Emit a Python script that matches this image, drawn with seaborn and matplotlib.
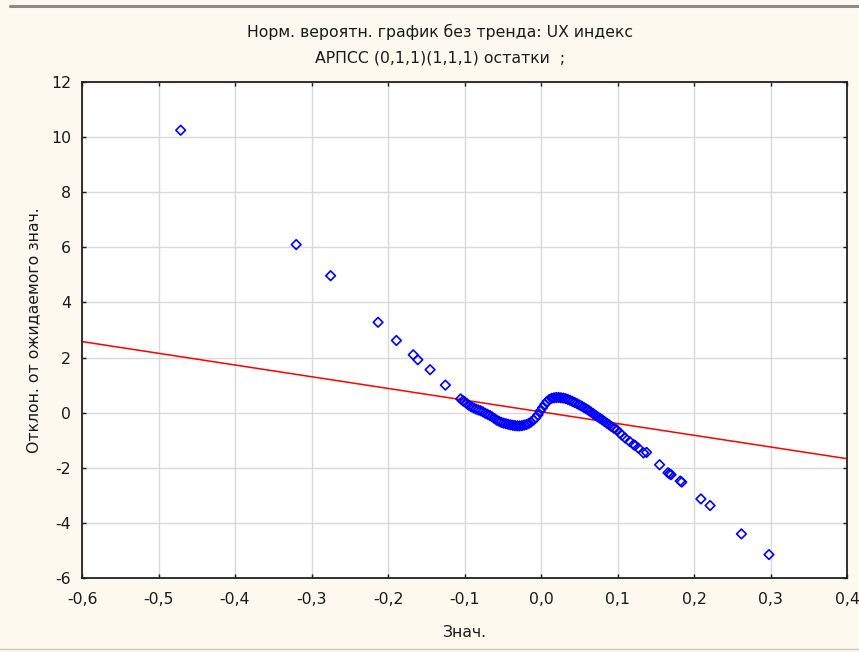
import matplotlib
matplotlib.use("Agg")
import matplotlib.pyplot as plt
import seaborn as sns
import pandas as pd
from matplotlib.lines import Line2D

# ---------------- data ----------------
title_lines = ["Норм. вероятн. график без тренда: UX индекс", "АРПСС (0,1,1)(1,1,1) остатки  ;"]
x_label = "Знач."
y_label = "Отклон. от ожидаемого знач."

x_ticks = [-0.6, -0.5, -0.4, -0.3, -0.2, -0.1, 0.0, 0.1, 0.2, 0.3, 0.4]
x_tick_labels = ["-0,6", "-0,5", "-0,4", "-0,3", "-0,2", "-0,1", "0,0", "0,1", "0,2", "0,3", "0,4"]
y_ticks = [-6, -4, -2, 0, 2, 4, 6, 8, 10, 12]
y_tick_labels = ["-6", "-4", "-2", "0", "2", "4", "6", "8", "10", "12"]

# left tail
tail_left_x = [-0.471, -0.320, -0.275, -0.213, -0.189, -0.167, -0.161, -0.145, -0.125, -0.105, -0.102]
tail_left_y = [10.25, 6.10, 4.97, 3.28, 2.62, 2.10, 1.92, 1.56, 1.00, 0.50, 0.43]

# dense central band
band_x = [-0.100, -0.097, -0.094, -0.091, -0.088, -0.085, -0.082, -0.079, -0.076, -0.073,
          -0.070, -0.067, -0.064, -0.061, -0.058, -0.055, -0.052, -0.049, -0.046, -0.043,
          -0.040, -0.037, -0.034, -0.031, -0.028, -0.025, -0.022, -0.019, -0.016, -0.013,
          -0.010, -0.007, -0.004, -0.001, 0.002, 0.005, 0.008, 0.011, 0.014, 0.017,
          0.020, 0.023, 0.026, 0.029, 0.032, 0.035, 0.038, 0.041, 0.044, 0.047,
          0.050, 0.053, 0.056, 0.059, 0.062, 0.065, 0.068, 0.071, 0.074, 0.077,
          0.080, 0.083, 0.086, 0.089, 0.092, 0.095]
band_y = [0.40, 0.33, 0.26, 0.21, 0.17, 0.13, 0.10, 0.07, 0.03, -0.02,
          -0.06, -0.10, -0.15, -0.21, -0.27, -0.31, -0.35, -0.38, -0.40, -0.42,
          -0.44, -0.46, -0.47, -0.48, -0.48, -0.47, -0.45, -0.43, -0.39, -0.34,
          -0.27, -0.19, -0.08, 0.06, 0.18, 0.30, 0.41, 0.48, 0.52, 0.54,
          0.55, 0.55, 0.54, 0.53, 0.51, 0.48, 0.45, 0.41, 0.37, 0.33,
          0.28, 0.24, 0.19, 0.14, 0.09, 0.03, -0.03, -0.09, -0.15, -0.20,
          -0.26, -0.32, -0.38, -0.44, -0.50, -0.56]

# right tail
tail_right_x = [0.099, 0.103, 0.106, 0.110, 0.116, 0.121, 0.123, 0.127, 0.134, 0.138,
                0.155, 0.166, 0.168, 0.170, 0.182, 0.184, 0.209, 0.221, 0.262, 0.298]
tail_right_y = [-0.62, -0.74, -0.82, -0.92, -1.05, -1.16, -1.19, -1.28, -1.46, -1.44,
                -1.89, -2.18, -2.22, -2.25, -2.48, -2.52, -3.13, -3.37, -4.40, -5.15]

# reference line endpoints
line_x = [-0.6, 0.4]
line_y = [2.58, -1.67]

# ---------------- figure ----------------
sns.set_theme(style="white")
plt.rcParams["font.family"] = ["DejaVu Sans"]

bg = "#FEF9EE"
txt = "#1A1A1A"
fs = 11.3
fig = plt.figure(figsize=(8.59, 6.52), dpi=100, facecolor=bg)
ax = fig.add_axes([82 / 859, 74 / 652, (847 - 82) / 859, (578 - 82) / 652])
ax.set_facecolor("white")

pts = pd.DataFrame({
    "x": tail_left_x + band_x + tail_right_x,
    "y": tail_left_y + band_y + tail_right_y,
})

sns.lineplot(x=line_x, y=line_y, color="#FF0000", lw=1.1, ax=ax, zorder=2)
sns.scatterplot(data=pts, x="x", y="y", marker="D", s=24, facecolor="none",
                edgecolor="#0000FF", linewidth=1.2, ax=ax, zorder=3)
for c in ax.collections:
    c.set_facecolor("none")

ax.set_xlim(-0.6, 0.4)
ax.set_ylim(-6, 12)
ax.set_xticks(x_ticks)
ax.set_xticklabels(x_tick_labels)
ax.set_yticks(y_ticks)
ax.set_yticklabels(y_tick_labels)
ax.grid(True, color="#D9D9D9", lw=1.0)
ax.set_axisbelow(True)
for s in ax.spines.values():
    s.set_color("#202020")
    s.set_linewidth(1.3)
ax.tick_params(axis="both", which="both", direction="in", length=3, width=1,
               top=True, right=True, bottom=True, left=True,
               labelsize=fs, colors=txt, pad=8)
ax.tick_params(axis="x", pad=10)
ax.set_xlabel(x_label, fontsize=fs, color=txt, labelpad=13)
ax.set_ylabel(y_label, fontsize=fs, color=txt, labelpad=7)

fig.text(440 / 859, 1 - 32 / 652, title_lines[0], ha="center", va="center", fontsize=fs, color=txt)
fig.text(440 / 859, 1 - 58 / 652, title_lines[1], ha="center", va="center", fontsize=fs, color=txt)

# window border lines
fig.add_artist(Line2D([10 / 859, 1], [1 - 6 / 652, 1 - 6 / 652], color="#8C8C84", lw=2.2, transform=fig.transFigure))
fig.add_artist(Line2D([0, 1], [1 - 649 / 652, 1 - 649 / 652], color="#C8C8C0", lw=1.0, transform=fig.transFigure))

fig.savefig("out.png", dpi=100, facecolor=bg)
